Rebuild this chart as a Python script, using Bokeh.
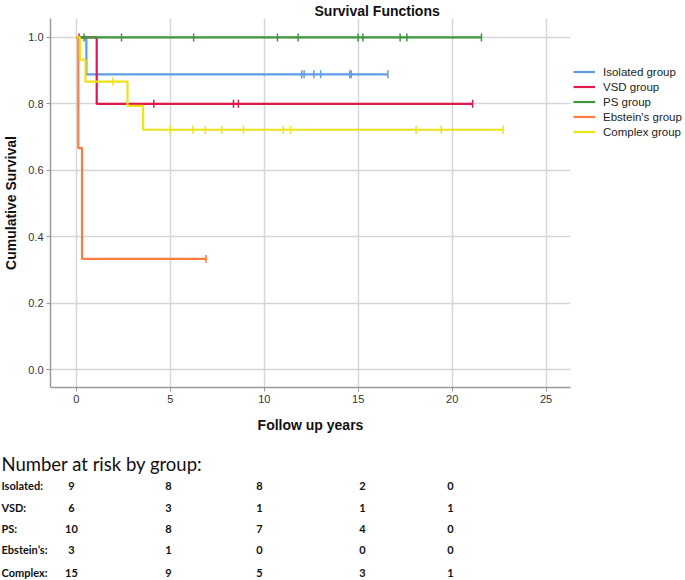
import numpy as np
from bokeh.plotting import figure
from bokeh.models import Range1d, Legend, LegendItem, FixedTicker, PrintfTickFormatter
from bokeh.layouts import column, row
from bokeh.core.properties import value
from bokeh.embed import file_html
from bokeh.resources import INLINE

# ---------------- data ----------------
group_names = ["Isolated group", "VSD group", "PS group", "Ebstein's group", "Complex group"]
group_colors = ["#5E9EE0", "#E0184C", "#3D963D", "#FF7A3D", "#EEE21A"]

iso_t = [0.0, 0.53, 16.58]
iso_s = [1.0, 0.889, 0.889]
iso_cens = [11.99, 12.12, 12.64, 13.0, 14.55, 14.63, 16.58]

vsd_t = [0.0, 1.08, 21.09]
vsd_s = [1.0, 0.8, 0.8]
vsd_cens = [0.14, 4.12, 8.36, 8.62, 21.09]

ps_t = [0.0, 21.56]
ps_s = [1.0, 1.0]
ps_cens = [0.41, 2.4, 6.24, 10.7, 11.8, 14.99, 15.25, 17.23, 17.59, 21.56]

eb_t = [0.0, 0.1, 0.3, 6.9]
eb_s = [1.0, 0.667, 0.333, 0.333]
eb_cens = [6.9]

cx_t = [0.0, 0.18, 0.48, 2.72, 3.55, 22.71]
cx_s = [1.0, 0.933, 0.867, 0.794, 0.722, 0.722]
cx_cens = [1.94, 5.0, 6.2, 6.86, 7.74, 8.89, 11.01, 11.4, 18.08, 19.42, 22.71]

x_ticks = [0, 5, 10, 15, 20, 25]
y_ticks = [0.0, 0.2, 0.4, 0.6, 0.8, 1.0]

risk_groups = ["Isolated:", "VSD:", "PS:", "Ebstein\u2019s:", "Complex:"]
risk_isolated = [9, 8, 8, 2, 0]
risk_vsd = [6, 3, 1, 1, 1]
risk_ps = [10, 8, 7, 4, 0]
risk_ebstein = [3, 1, 0, 0, 0]
risk_complex = [15, 9, 5, 3, 1]

# ---------------- layout constants ----------------
W_MAIN = 573
W_LEG = 112
H_TOP = 437
H_TAB = 143
FONT = "Liberation Sans"

p = figure(width=W_MAIN, height=H_TOP,
           x_range=Range1d(-1.38, 26.3), y_range=Range1d(-0.054, 1.057),
           output_backend="svg", toolbar_location=None, frame_align=False,
           min_border_left=48, min_border_right=3,
           min_border_top=0, min_border_bottom=50)
p.outline_line_color = None

p.title.text = "Survival Functions"
p.title.align = "left"
p.title.offset = 264
p.title.standoff = 0
p.title.text_font = FONT
p.title.text_font_size = "14px"
p.title.text_font_style = "bold"
p.title.text_color = "#111111"

for ax in (p.xaxis[0], p.yaxis[0]):
    ax.axis_line_color = "#9a9a9a"
    ax.axis_line_width = 1.5
    ax.major_tick_line_color = "#9a9a9a"
    ax.major_tick_out = 4
    ax.major_tick_in = 0
    ax.minor_tick_line_color = None
    ax.major_label_text_font = FONT
    ax.major_label_text_font_size = "11px"
    ax.major_label_text_color = "#333333"
    ax.major_label_standoff = 3
    ax.axis_label_text_font = FONT
    ax.axis_label_text_font_size = "14px"
    ax.axis_label_text_font_style = "bold"
    ax.axis_label_text_color = "#111111"

p.xaxis.ticker = FixedTicker(ticks=x_ticks)
p.yaxis.ticker = FixedTicker(ticks=y_ticks)
p.yaxis.formatter = PrintfTickFormatter(format="%.1f")
p.xaxis.axis_label = "Follow up years"
p.yaxis.axis_label = "Cumulative Survival"
p.xaxis.axis_label_standoff = 11
p.yaxis.axis_label_standoff = 6

p.grid.grid_line_color = "#d6d6d6"
p.grid.grid_line_width = 1.5

curves = [(iso_t, iso_s, iso_cens), (vsd_t, vsd_s, vsd_cens), (ps_t, ps_s, ps_cens),
          (eb_t, eb_s, eb_cens), (cx_t, cx_s, cx_cens)]

for (t, s, c), col in zip(curves, group_colors):
    p.step(x=t, y=s, mode="after", line_color=col, line_width=2.2)
    idx = np.searchsorted(np.array(t), np.array(c), side="right") - 1
    cy = [s[i] for i in idx]
    p.scatter(x=c, y=cy, marker="dash", angle=np.pi / 2, size=8,
              line_color=col, line_width=1.5)

# ---------------- legend panel (own small figure) ----------------
# its ranges are set away from the data so only the legend itself shows
lf = figure(width=W_LEG, height=H_TOP, x_range=Range1d(-100, -99), y_range=Range1d(-100, -99),
            output_backend="svg", toolbar_location=None, min_border=0,
            frame_align=False, x_axis_type=None, y_axis_type=None)
lf.outline_line_color = None
lf.grid.visible = False

items = []
for (t, s, c), name, col in zip(curves, group_names, group_colors):
    r = lf.line(x=t, y=s, line_color=col, line_width=2.2)
    items.append(LegendItem(label=name, renderers=[r]))

legend = Legend(items=items, location=(0, H_TOP - 139),
                glyph_width=22, glyph_height=15, label_height=15,
                label_standoff=8, spacing=0, padding=0, margin=0,
                border_line_color=None, background_fill_alpha=0,
                label_text_font=FONT, label_text_font_size="11.5px",
                label_text_color="#222222")
lf.add_layout(legend)

# ---------------- risk table ----------------
W_TAB = W_MAIN + W_LEG
tb = figure(width=W_TAB, height=H_TAB, x_range=Range1d(0, W_TAB), y_range=Range1d(H_TAB, 0),
            output_backend="svg", toolbar_location=None, min_border=0,
            frame_align=False, x_axis_type=None, y_axis_type=None)
tb.outline_line_color = None
tb.grid.visible = False

TFONT = "Lato"
tb.text(x=[1], y=[26], text=["Number at risk by group:"], text_font=value(TFONT),
        text_font_size="18.5px", text_baseline="alphabetic", text_color="#111111")

row_y = [48, 70, 91, 112, 135]
col_x = [71, 168, 259, 362, 450]
rows = [risk_isolated, risk_vsd, risk_ps, risk_ebstein, risk_complex]

tb.text(x=[1] * len(risk_groups), y=row_y, text=risk_groups, text_font=value(TFONT),
        text_font_size="11px", text_font_style="bold", text_baseline="middle",
        text_color="#111111")
for ry, vals in zip(row_y, rows):
    tb.text(x=col_x, y=[ry] * len(vals), text=[str(v) for v in vals],
            text_font=value(TFONT), text_font_size="11px", text_font_style="bold",
            text_baseline="middle", text_align="center", text_color="#111111")

layout = column(row(p, lf, spacing=0), tb, spacing=0)
open("out.html", "w").write(file_html(layout, INLINE))
